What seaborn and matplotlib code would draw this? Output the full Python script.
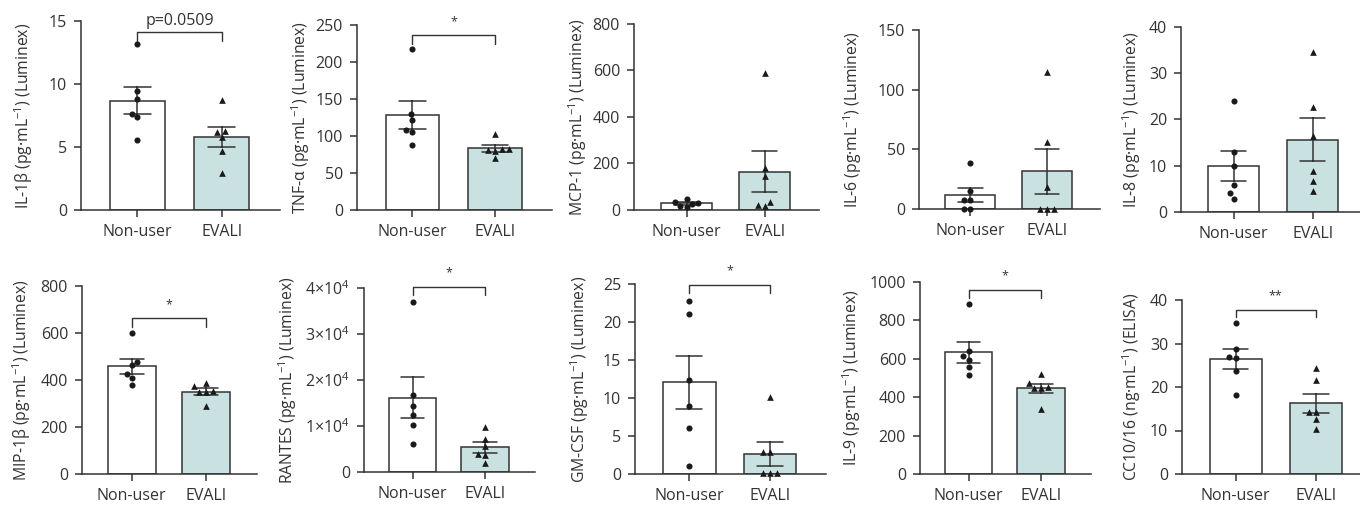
import pandas as pd
import matplotlib
matplotlib.use('Agg')
import matplotlib.pyplot as plt
import matplotlib.ticker as mticker
import seaborn as sns

# groups and colours
groups = ['Non-user', 'EVALI']
bar_colors = {'Non-user': 'white', 'EVALI': '#c6e5e6'}

# values (one list per group per panel)
il1b_nonuser = [13.2, 9.45, 8.8, 7.65, 7.4, 5.55]
il1b_evali = [8.75, 6.25, 6.2, 5.8, 4.7, 2.9]
tnfa_nonuser = [217, 130, 122, 108, 106, 88]
tnfa_evali = [103, 83, 81, 80, 83, 70]
mcp1_nonuser = [46, 36, 31, 26, 19, 12]
mcp1_evali = [590, 180, 148, 35, 20, 17]
il6_nonuser = [38.3, 15.4, 7.5, 7.5, 0.3, 0.3]
il6_evali = [115, 56, 18.7, 0.3, 0.3, 0.3]
il8_nonuser = [23.9, 13.0, 9.9, 5.9, 4.0, 2.9]
il8_evali = [34.6, 22.7, 16.5, 8.9, 6.7, 4.6]
mip1b_nonuser = [600, 477, 463, 427, 408, 377]
mip1b_evali = [389, 373, 352, 351, 350, 288]
rantes_nonuser = [36950, 16700, 14350, 12450, 10150, 6150]
rantes_evali = [9800, 7250, 5650, 3900, 3700, 1900]
gmcsf_nonuser = [22.7, 21.0, 12.4, 9.0, 6.1, 1.1]
gmcsf_evali = [10.1, 2.85, 2.85, 0.1, 0.1, 0.1]
il9_nonuser = [883, 639, 613, 595, 555, 515]
il9_evali = [520, 473, 452, 450, 448, 340]
cc16_nonuser = [34.6, 28.7, 26.8, 26.6, 23.6, 18.2]
cc16_evali = [24.3, 21.5, 14.3, 14.3, 12.6, 10.3]

panel_data = [
    (il1b_nonuser, il1b_evali), (tnfa_nonuser, tnfa_evali),
    (mcp1_nonuser, mcp1_evali), (il6_nonuser, il6_evali),
    (il8_nonuser, il8_evali), (mip1b_nonuser, mip1b_evali),
    (rantes_nonuser, rantes_evali), (gmcsf_nonuser, gmcsf_evali),
    (il9_nonuser, il9_evali), (cc16_nonuser, cc16_evali),
]

ylabels = [
    'IL-1β (pg·mL$^{-1}$) (Luminex)',
    'TNF-α (pg·mL$^{-1}$) (Luminex)',
    'MCP-1 (pg·mL$^{-1}$) (Luminex)',
    'IL-6 (pg·mL$^{-1}$) (Luminex)',
    'IL-8 (pg·mL$^{-1}$) (Luminex)',
    'MIP-1β (pg·mL$^{-1}$) (Luminex)',
    'RANTES (pg·mL$^{-1}$) (Luminex)',
    'GM-CSF (pg·mL$^{-1}$) (Luminex)',
    'IL-9 (pg·mL$^{-1}$) (Luminex)',
    'CC10/16 (ng·mL$^{-1}$) (ELISA)',
]
ymax = [15, 250, 800, 150, 40, 800, 40000, 25, 1000, 40]
ystep = [5, 50, 200, 50, 10, 200, 10000, 5, 200, 10]
sig_labels = ['p=0.0509', '*', '', '', '', '*', '*', '*', '*', '**']
sig_heights = [14.1, 236, 0, 0, 0, 662, 40300, 24.9, 960, 37.8]

# axes boxes in pixels: left, right, top, bottom
W, H = 1360, 505
rects = [(81, 280, 21, 210), (357, 552, 25, 210), (634, 819, 24, 210),
         (919, 1100, 30, 209), (1181, 1367, 27, 212),
         (82, 257, 286, 474), (364, 535, 288, 472), (635, 826, 284, 474),
         (920, 1091, 282, 474), (1182, 1371, 300, 474)]
# anchor (right side) of each y label, pixels
label_right = [35, 312, 589, 864, 1143, 33, 299, 591, 863, 1143]

sns.set_style('ticks')
plt.rcParams['font.family'] = ['Open Sans', 'DejaVu Sans']
plt.rcParams['mathtext.default'] = 'regular'
dark = '#333333'
plt.rcParams.update({
    'axes.edgecolor': dark, 'axes.linewidth': 1.1,
    'xtick.color': dark, 'ytick.color': dark,
    'xtick.major.size': 5, 'ytick.major.size': 5,
    'xtick.major.width': 1.1, 'ytick.major.width': 1.1,
    'xtick.major.pad': 5, 'ytick.major.pad': 5,
    'text.color': dark, 'axes.labelcolor': dark,
})

fig = plt.figure(figsize=(W / 100, H / 100), dpi=100)

for i, (nonuser, evali) in enumerate(panel_data):
    l, r, t, b = rects[i]
    ax = fig.add_axes([l / W, 1 - b / H, (r - l) / W, (b - t) / H])

    df = pd.DataFrame({
        'group': ['Non-user'] * len(nonuser) + ['EVALI'] * len(evali),
        'value': list(nonuser) + list(evali),
    })

    sns.barplot(data=df, x='group', y='value', hue='group', order=groups,
                palette=bar_colors, legend=False, width=0.65,
                errorbar='se', capsize=0.32,
                edgecolor=dark, linewidth=1.1,
                err_kws={'color': dark, 'linewidth': 1.1}, ax=ax)
    sns.swarmplot(data=df[df.group == 'Non-user'], x='group', y='value',
                  order=groups, color='#1a1a1a', marker='o', size=4.4, ax=ax)
    sns.swarmplot(data=df[df.group == 'EVALI'], x='group', y='value',
                  order=groups, color='#1a1a1a', marker='^', size=4.8, ax=ax)
    for coll in ax.collections:
        coll.set_clip_on(False)

    ax.set_xlim(-0.67, 1.69)
    ax.set_ylim(0, ymax[i])
    ax.yaxis.set_major_locator(mticker.MultipleLocator(ystep[i]))
    if ymax[i] >= 10000:
        ax.yaxis.set_major_formatter(mticker.FuncFormatter(
            lambda v, p: '0' if v == 0 else f'{int(v / 10000)}×10$^{{4}}$'))
    ax.tick_params(labelsize=11.5)
    ax.set_xlabel('')
    ax.set_ylabel(ylabels[i], fontsize=11.3)
    ax.yaxis.set_label_coords((label_right[i] - l) / (r - l), 0.5)
    sns.despine(ax=ax)

    # significance bracket
    if sig_labels[i]:
        h = sig_heights[i]
        drop = 0.045 * ymax[i]
        ax.plot([0, 0, 1, 1], [h - drop, h, h, h - drop], color=dark,
                lw=1.0, clip_on=False)
        if sig_labels[i].startswith('p'):
            ax.text(0.5, h + 0.02 * ymax[i], sig_labels[i], ha='center',
                    va='bottom', fontsize=11.5)
        else:
            ax.text(0.5, h + 0.04 * ymax[i], sig_labels[i], ha='center',
                    va='bottom', fontsize=9)

plt.savefig('out.png', dpi=100)
